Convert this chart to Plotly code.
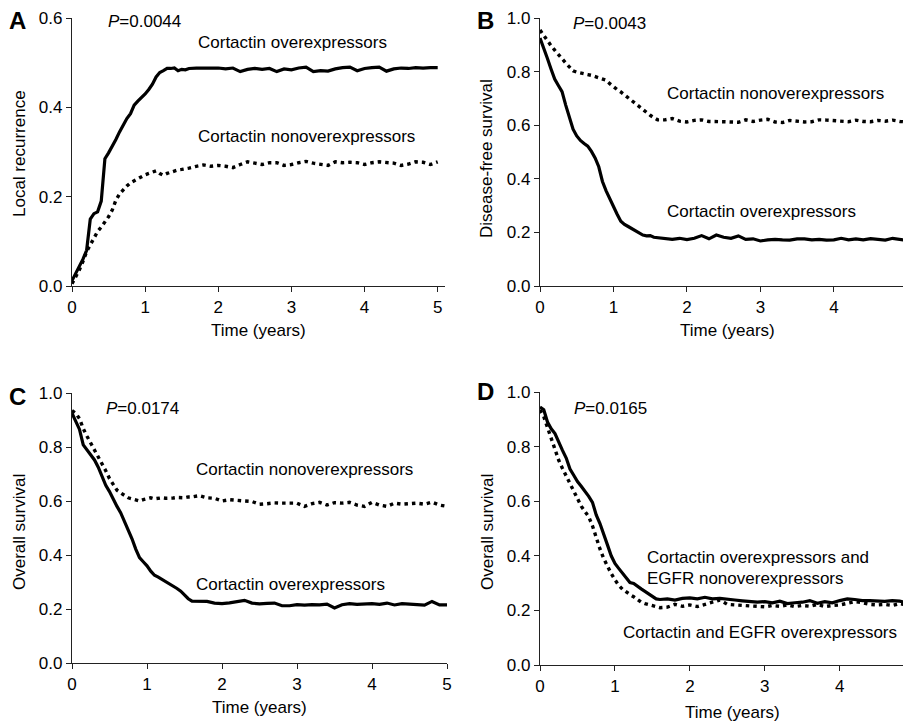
import plotly.graph_objects as go

# time grid (years): fine steps early on, coarser on the plateau
TIME = [0.0, 0.05, 0.1, 0.15, 0.2, 0.25, 0.3, 0.35, 0.4, 0.45, 0.5, 0.55, 0.6,
        0.65, 0.7, 0.75, 0.8, 0.85, 0.9, 0.95, 1.0, 1.05, 1.1, 1.15, 1.2, 1.25,
        1.3, 1.35, 1.4, 1.45, 1.5, 1.55, 1.6,
        1.7, 1.8, 1.9, 2.0, 2.1, 2.2, 2.3, 2.4, 2.5, 2.6, 2.7, 2.8, 2.9, 3.0,
        3.1, 3.2, 3.3, 3.4, 3.5, 3.6, 3.7, 3.8, 3.9, 4.0, 4.1, 4.2, 4.3, 4.4,
        4.5, 4.6, 4.7, 4.8, 4.9, 5.0]

# A: local recurrence
a_over = [0.012, 0.028, 0.042, 0.060, 0.080, 0.150, 0.162, 0.166, 0.190, 0.285, 0.298,
          0.312, 0.328, 0.345, 0.362, 0.375, 0.386, 0.405, 0.414, 0.421, 0.430, 0.440,
          0.452, 0.468, 0.478, 0.482, 0.487, 0.487, 0.488, 0.482, 0.485, 0.484, 0.487,
          0.488, 0.488, 0.489, 0.488, 0.486, 0.488, 0.480, 0.485, 0.487, 0.485, 0.487,
          0.480, 0.486, 0.484, 0.488, 0.490, 0.480, 0.482, 0.481, 0.486, 0.489, 0.490,
          0.482, 0.487, 0.489, 0.490, 0.481, 0.486, 0.488, 0.487, 0.489, 0.488, 0.489, 0.489]
a_non = [0.005, 0.020, 0.036, 0.055, 0.077, 0.092, 0.108, 0.122, 0.132, 0.142, 0.155,
         0.170, 0.192, 0.206, 0.216, 0.224, 0.231, 0.236, 0.241, 0.245, 0.249, 0.252,
         0.255, 0.258, 0.252, 0.248, 0.252, 0.255, 0.258, 0.260, 0.261, 0.262, 0.264,
         0.268, 0.271, 0.268, 0.270, 0.268, 0.265, 0.272, 0.278, 0.275, 0.272, 0.276,
         0.276, 0.270, 0.272, 0.276, 0.279, 0.275, 0.272, 0.270, 0.278, 0.276, 0.277,
         0.276, 0.272, 0.276, 0.278, 0.277, 0.275, 0.270, 0.273, 0.278, 0.277, 0.272, 0.278]

# B: disease-free survival
b_over = [0.925, 0.890, 0.850, 0.810, 0.772, 0.748, 0.725, 0.675, 0.625, 0.585, 0.560,
          0.543, 0.532, 0.522, 0.502, 0.478, 0.445, 0.390, 0.355, 0.325, 0.292, 0.268,
          0.242, 0.230, 0.222, 0.214, 0.205, 0.196, 0.190, 0.187, 0.188, 0.182, 0.180,
          0.176, 0.174, 0.178, 0.173, 0.178, 0.188, 0.176, 0.190, 0.182, 0.178, 0.187,
          0.174, 0.176, 0.168, 0.172, 0.174, 0.172, 0.171, 0.176, 0.176, 0.172, 0.174,
          0.171, 0.172, 0.178, 0.172, 0.176, 0.172, 0.177, 0.175, 0.171, 0.178, 0.174, 0.170]
b_non = [0.955, 0.935, 0.912, 0.897, 0.880, 0.866, 0.848, 0.832, 0.815, 0.803, 0.798,
         0.794, 0.791, 0.789, 0.786, 0.782, 0.779, 0.775, 0.768, 0.755, 0.743, 0.733,
         0.724, 0.713, 0.700, 0.688, 0.678, 0.667, 0.655, 0.646, 0.637, 0.628, 0.620,
         0.620, 0.625, 0.615, 0.612, 0.618, 0.620, 0.614, 0.612, 0.613, 0.612, 0.611,
         0.620, 0.614, 0.619, 0.622, 0.612, 0.610, 0.618, 0.614, 0.612, 0.613, 0.620,
         0.619, 0.618, 0.617, 0.613, 0.619, 0.614, 0.613, 0.618, 0.615, 0.619, 0.614, 0.612]

# C: overall survival
c_over = [0.925, 0.895, 0.865, 0.808, 0.788, 0.772, 0.752, 0.725, 0.690, 0.658, 0.635,
          0.605, 0.580, 0.556, 0.526, 0.495, 0.460, 0.422, 0.390, 0.375, 0.360, 0.340,
          0.325, 0.318, 0.310, 0.302, 0.295, 0.285, 0.276, 0.266, 0.250, 0.238, 0.229,
          0.228, 0.228, 0.222, 0.220, 0.223, 0.228, 0.232, 0.222, 0.219, 0.221, 0.222,
          0.212, 0.212, 0.216, 0.214, 0.216, 0.215, 0.218, 0.204, 0.216, 0.220, 0.217,
          0.218, 0.220, 0.217, 0.222, 0.215, 0.220, 0.218, 0.217, 0.214, 0.228, 0.215, 0.215]
c_non = [0.935, 0.925, 0.905, 0.868, 0.840, 0.815, 0.790, 0.765, 0.738, 0.712, 0.683,
         0.660, 0.640, 0.630, 0.620, 0.612, 0.608, 0.605, 0.600, 0.605, 0.610, 0.612,
         0.608, 0.610, 0.612, 0.610, 0.609, 0.611, 0.613, 0.612, 0.612, 0.615, 0.615,
         0.620, 0.612, 0.610, 0.600, 0.605, 0.604, 0.600, 0.598, 0.588, 0.590, 0.593,
         0.592, 0.593, 0.592, 0.580, 0.590, 0.595, 0.585, 0.594, 0.592, 0.595, 0.585,
         0.580, 0.595, 0.585, 0.580, 0.592, 0.588, 0.590, 0.592, 0.588, 0.596, 0.585, 0.580]

# D: overall survival, cortactin/EGFR subgroups
d_over_egfr_non = [0.945, 0.935, 0.890, 0.865, 0.848, 0.815, 0.786, 0.758, 0.718, 0.695, 0.672,
                   0.655, 0.637, 0.618, 0.596, 0.550, 0.518, 0.482, 0.440, 0.400, 0.372, 0.354,
                   0.336, 0.320, 0.302, 0.299, 0.288, 0.279, 0.270, 0.261, 0.252, 0.242, 0.240,
                   0.242, 0.238, 0.244, 0.246, 0.242, 0.248, 0.242, 0.244, 0.240, 0.238, 0.235,
                   0.232, 0.230, 0.232, 0.228, 0.234, 0.225, 0.228, 0.230, 0.236, 0.226, 0.232,
                   0.228, 0.236, 0.242, 0.240, 0.236, 0.236, 0.235, 0.233, 0.236, 0.234, 0.228, 0.222]
d_both_over = [0.935, 0.910, 0.870, 0.830, 0.790, 0.750, 0.720, 0.692, 0.664, 0.637, 0.610,
               0.582, 0.562, 0.543, 0.510, 0.465, 0.425, 0.390, 0.360, 0.335, 0.312, 0.292,
               0.278, 0.266, 0.258, 0.250, 0.238, 0.230, 0.225, 0.221, 0.218, 0.214, 0.210,
               0.212, 0.222, 0.215, 0.220, 0.214, 0.222, 0.232, 0.238, 0.222, 0.220, 0.218,
               0.215, 0.214, 0.213, 0.218, 0.215, 0.220, 0.214, 0.218, 0.215, 0.222, 0.214,
               0.218, 0.220, 0.226, 0.232, 0.228, 0.222, 0.220, 0.222, 0.218, 0.225, 0.220, 0.218]

# the page body has an 8px margin, so the figure is a bit smaller than the window
OFF = 8
W, H = 911 - OFF, 724 - OFF
FONT = "Liberation Sans, Arial, sans-serif"
SOLID = dict(color="black", width=3.2)
DOTTED = dict(color="black", width=3.4, dash="3.5px,4px")


def px(x):
    return (x - OFF) / W


def py(y):
    return 1 - (y - OFF) / H


fig = go.Figure()
# (axis suffix, solid series, dotted series)
panels = [
    ("", a_over, a_non),
    ("2", b_over, b_non),
    ("3", c_over, c_non),
    ("4", d_over_egfr_non, d_both_over),
]
for ax, solid, dotted in panels:
    fig.add_trace(go.Scatter(x=TIME, y=dotted, mode="lines", line=DOTTED,
                             xaxis="x" + ax, yaxis="y" + ax, showlegend=False))
    fig.add_trace(go.Scatter(x=TIME, y=solid, mode="lines", line=SOLID,
                             xaxis="x" + ax, yaxis="y" + ax, showlegend=False))

axis_style = dict(showgrid=False, zeroline=False, showline=True, linecolor="#222",
                  linewidth=1.2, ticks="outside", ticklen=5, tickwidth=1.2,
                  tickcolor="#222", automargin=False,
                  tickfont=dict(size=17, color="black", family=FONT))
xt = dict(tickvals=[0, 1, 2, 3, 4, 5], ticktext=["0", "1", "2", "3", "4", "5"])
yt = dict(dtick=0.2, tickformat=".1f")

fig.update_layout(
    template="none",
    width=W, height=H, margin=dict(l=0, r=0, t=0, b=0, pad=0),
    plot_bgcolor="white", paper_bgcolor="white",
    font=dict(family=FONT, size=17, color="black"),
    xaxis=dict(domain=[px(72), px(445)], range=[0, 5.1], anchor="y", **xt, **axis_style),
    yaxis=dict(domain=[py(286), py(18)], range=[0, 0.6], anchor="x", **yt, **axis_style),
    xaxis2=dict(domain=[px(540), 1], range=[0, 5.05], anchor="y2", **xt, **axis_style),
    yaxis2=dict(domain=[py(286), py(18)], range=[0, 1], anchor="x2", **yt, **axis_style),
    xaxis3=dict(domain=[px(72), px(447)], range=[0, 5.0], anchor="y3", **xt, **axis_style),
    yaxis3=dict(domain=[py(663), py(393)], range=[0, 1], anchor="x3", **yt, **axis_style),
    xaxis4=dict(domain=[px(540), 1], range=[0, 4.95], anchor="y4", **xt, **axis_style),
    yaxis4=dict(domain=[py(665), py(392)], range=[0, 1], anchor="x4", **yt, **axis_style),
)


def note(text, x, y, xanchor="left", size=17, angle=0, bold=False):
    if bold:
        text = "<b>" + text + "</b>"
    fig.add_annotation(text=text, x=px(x), y=py(y), xref="paper", yref="paper",
                       xanchor=xanchor, yanchor="middle", showarrow=False,
                       textangle=angle, borderpad=0,
                       font=dict(size=size, family=FONT, color="black"))


# panel letters
note("A", 8, 20, size=24, bold=True)
note("B", 476, 20, size=24, bold=True)
note("C", 8, 396, size=24, bold=True)
note("D", 476, 391, size=24, bold=True)

# P values
note("<i>P</i>=0.0044", 107, 22)
note("<i>P</i>=0.0043", 572, 24)
note("<i>P</i>=0.0174", 105, 408)
note("<i>P</i>=0.0165", 573, 408)

# curve labels
note("Cortactin overexpressors", 197, 43)
note("Cortactin nonoverexpressors", 197, 136)
note("Cortactin nonoverexpressors", 666, 94)
note("Cortactin overexpressors", 666, 212)
note("Cortactin nonoverexpressors", 195, 470)
note("Cortactin overexpressors", 195, 584)
note("Cortactin overexpressors and", 646, 557)
note("EGFR nonoverexpressors", 646, 578)
note("Cortactin and EGFR overexpressors", 622, 632)

# axis titles
note("Time (years)", 258, 330, xanchor="center")
note("Time (years)", 727, 330, xanchor="center")
note("Time (years)", 259, 707, xanchor="center")
note("Time (years)", 732, 712, xanchor="center")
note("Local recurrence", 19, 154, xanchor="center", angle=-90)
note("Disease-free survival", 487, 158, xanchor="center", angle=-90)
note("Overall survival", 19, 532, xanchor="center", angle=-90)
note("Overall survival", 487, 532, xanchor="center", angle=-90)

fig.write_html("out.html")
